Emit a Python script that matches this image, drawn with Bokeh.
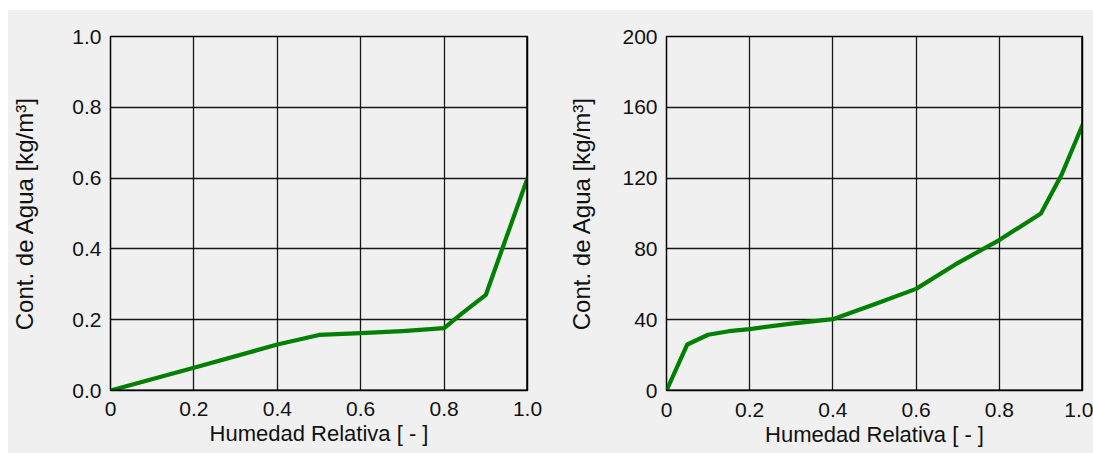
from bokeh.plotting import figure
from bokeh.layouts import row, column
from bokeh.models import Range1d, FixedTicker, Span, Spacer
from bokeh.embed import file_html
from bokeh.resources import INLINE

# ---- data ----
hr_left = [0.0, 0.2, 0.4, 0.5, 0.6, 0.7, 0.8, 0.84, 0.9, 1.0]
agua_left = [0.0, 0.064, 0.13, 0.157, 0.162, 0.168, 0.176, 0.215, 0.27, 0.6]

hr_right = [0.0, 0.05, 0.1, 0.15, 0.2, 0.3, 0.4, 0.5, 0.6, 0.7, 0.8, 0.9, 0.95, 1.0]
agua_right = [0.0, 26.0, 31.5, 33.5, 34.7, 37.8, 40.3, 48.7, 57.4, 72.0, 85.0, 100.0, 122.0, 150.0]

x_ticks = [0.0, 0.2, 0.4, 0.6, 0.8, 1.0]
x_tick_labels = ["0", "0.2", "0.4", "0.6", "0.8", "1.0"]
y_ticks_left = [0.0, 0.2, 0.4, 0.6, 0.8, 1.0]
y_tick_labels_left = ["0.0", "0.2", "0.4", "0.6", "0.8", "1.0"]
y_ticks_right = [0, 40, 80, 120, 160, 200]
y_tick_labels_right = ["0", "40", "80", "120", "160", "200"]

x_title = "Humedad Relativa [ - ]"
y_title = "Cont. de Agua [kg/m³]"

BG = "#f0f0f0"
FONT = "Liberation Sans"
TXT = "#111111"


def make(width, height, ymax, yticks, ylabels, xs, ys, borders, ylab_standoff, xstand, xlab_standoff):
    left, right, top, bottom = borders
    p = figure(width=width, height=height, output_backend="svg", toolbar_location=None,
               x_range=Range1d(0, 1), y_range=Range1d(0, ymax),
               min_border_left=left, min_border_right=right,
               min_border_top=top, min_border_bottom=bottom,
               background_fill_color=BG, border_fill_color=BG)
    p.outline_line_color = "black"
    p.outline_line_width = 1.5
    for ax in (p.xaxis[0], p.yaxis[0]):
        ax.axis_line_color = None
        ax.major_tick_line_color = None
        ax.minor_tick_line_color = None
        ax.major_label_text_font = FONT
        ax.major_label_text_font_size = "21px"
        ax.major_label_text_color = TXT
        ax.axis_label_text_font = FONT
        ax.axis_label_text_font_style = "normal"
        ax.axis_label_text_color = TXT
    p.xaxis.ticker = FixedTicker(ticks=x_ticks)
    p.xaxis.major_label_overrides = {t: l for t, l in zip(x_ticks, x_tick_labels)}
    p.yaxis.ticker = FixedTicker(ticks=yticks)
    p.yaxis.major_label_overrides = {t: l for t, l in zip(yticks, ylabels)}
    p.xaxis.axis_label = x_title
    p.yaxis.axis_label = y_title
    p.xaxis.axis_label_text_font_size = "22px"
    p.yaxis.axis_label_text_font_size = "24px"
    p.yaxis.major_label_standoff = 3
    p.xaxis.major_label_standoff = xstand
    p.yaxis.axis_label_standoff = ylab_standoff
    p.xaxis.axis_label_standoff = xlab_standoff
    p.xgrid.ticker = FixedTicker(ticks=x_ticks)
    p.ygrid.ticker = FixedTicker(ticks=yticks)
    for g in (p.xgrid[0], p.ygrid[0]):
        g.grid_line_color = "black"
        g.grid_line_width = 1.3
        g.grid_line_alpha = 0.9
    p.add_layout(Span(location=1.0, dimension="height", line_color="black", line_width=2.5))
    p.add_layout(Span(location=0.0, dimension="width", line_color="black", line_width=2))
    p.line(xs, ys, line_color="#008000", line_width=4.2, line_join="round", line_cap="round")
    return p


p1 = make(555, 443, 1.0, y_ticks_left, y_tick_labels_left, hr_left, agua_left,
          (102, 36, 20, 63), 31, 5, 2)
p2 = make(530, 443, 200, y_ticks_right, y_tick_labels_right, hr_right, agua_right,
          (103, 11, 26, 58), 24, 6, 2)

panels = row(p1, p2, styles={"background-color": BG})
layout = column(Spacer(height=10), row(Spacer(width=8), panels))
open("out.html", "w").write(file_html(layout, INLINE))
